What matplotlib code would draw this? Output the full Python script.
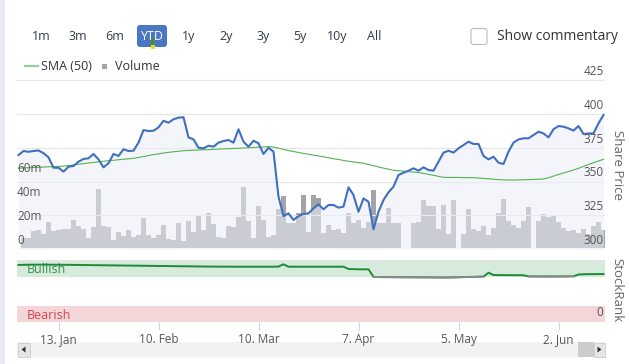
import numpy as np
import pandas as pd
import matplotlib
matplotlib.use("Agg")
import matplotlib.pyplot as plt
from matplotlib.patches import Rectangle, FancyBboxPatch, Polygon

plt.rcParams['font.family'] = ['Open Sans', 'DejaVu Sans']

# trading days (holidays kept with zero volume)
days = pd.bdate_range('2025-01-01', '2025-06-13')

price = [369.6, 372.6, 372.0, 372.6, 373.0, 371.0,
         367.9, 360.2, 360.2, 357.3, 361.0, 361.5, 364.7, 366.7, 367.2, 370.4,
         366.4, 360.5, 363.5, 370.4, 368.9, 373.9, 372.6, 372.8, 378.8, 388.1,
         387.4, 387.6, 390.1, 395.0, 393.6, 396.1, 397.3, 397.6, 382.7, 381.2,
         375.0, 374.6, 376.5, 375.8, 378.8, 380.0, 380.7, 378.8, 388.7, 379.5,
         375.8, 380.2, 378.3, 370.4, 375.0, 372.1, 338.8, 324.4, 326.4, 321.5,
         324.4, 325.9, 326.4, 330.1, 333.1,
         329.4, 332.6, 332.6, 330.6, 331.4, 345.7, 340.0, 327.6, 337.5, 335.0,
         314.6, 327.6, 336.3, 342.0, 346.2, 354.8, 356.5, 358.0, 359.8, 358.0,
         360.5, 358.5, 358.0, 364.7, 371.4, 372.8, 371.4, 374.6, 377.0, 379.5,
         377.8, 377.8, 368.9, 366.4, 368.4, 363.9, 363.0, 372.1, 378.8, 381.2,
         382.0, 382.0, 384.4, 386.9, 385.6, 382.7, 388.7, 391.1, 390.6, 389.4,
         387.7, 391.1, 385.2, 385.6, 385.6, 393.1, 399.3]

sma50 = [359.8, 360.0, 360.2, 360.4, 360.5, 360.7, 360.9, 361.0, 361.2, 361.4,
         361.8, 362.3, 362.8, 363.2, 363.7, 364.1, 364.6,
         365.0, 365.4, 365.7, 366.1, 366.5, 366.8, 367.2,
         367.8, 368.5, 369.2, 369.9, 370.5, 371.1,
         371.6, 372.0, 372.4, 372.8,
         373.0, 373.2, 373.3, 373.5, 373.6, 373.8,
         374.0, 374.2, 374.3, 374.5, 374.6, 374.8, 375.0,
         375.2, 375.4, 375.6, 375.8,
         375.5, 374.7, 373.8, 372.9,
         372.2, 371.5, 370.8, 370.2, 369.5, 368.9,
         368.3, 367.6, 366.9, 366.3, 365.6,
         365.0, 364.5, 364.0, 363.5,
         362.6, 361.7, 360.8, 359.9, 359.1, 358.3,
         358.0, 357.6, 357.3, 357.0, 356.6,
         356.0, 355.3, 354.6, 353.8, 353.1,
         353.0, 353.0, 353.0, 352.9, 352.9, 352.8,
         352.6, 352.3, 352.0, 351.7, 351.4, 351.2,
         351.1, 351.1, 351.2, 351.3, 351.4, 351.5, 351.7, 351.9,
         352.8, 354.0, 355.2, 356.3, 357.4, 358.5,
         359.8, 361.2, 362.6, 363.9, 365.2, 366.4]

# volume in millions
volume = [0,
          8.1, 8.6, 14.4, 15.0, 11.7, 21.7, 14.4, 15.0, 15.8, 15.8,
          23.3, 18.6, 15.8, 8.3, 17.5, 49.2, 18.6, 17.8, 6.7, 13.3,
          10.0, 15.0, 9.4, 10.8, 25.0, 10.8, 8.6, 10.8, 19.2, 7.5, 6.7,
          20.8, 6.1, 22.5, 13.3, 27.5, 15.0, 29.2, 20.3, 9.2, 8.6, 18.3,
          17.5, 25.8, 51.1, 22.5, 8.6, 35.0, 23.3, 9.4, 10.8, 32.5,
          43.6, 20.6, 21.1, 28.9, 43.9, 13.6, 43.9, 41.4, 12.8, 19.2,
          15.0, 15.6, 12.2, 29.4, 20.6, 23.3, 17.0, 22.0, 48.3, 21.1, 20.6,
          33.0, 21.1, 21.1, 0, 0, 21.1, 22.0, 40.0, 35.0, 35.0,
          15.8, 36.0, 11.7, 40.0, 0, 11.7, 32.5, 15.6, 14.2, 18.3, 10.8,
          16.4, 28.9, 40.8, 22.5, 19.2, 16.4, 22.5, 34.2, 0, 22.5, 28.3,
          25.6, 26.7, 22.0, 16.4, 14.4, 15.0, 12.2, 15.6, 11.7, 18.3, 22.0, 15.0]

stockrank = [92.0, 92.2, 92.4, 92.4, 92.5, 92.5, 92.4, 92.4, 92.3, 92.3,
             92.2, 92.1, 92.0, 91.9, 91.8, 91.7, 91.6, 91.5, 91.4, 91.3,
             91.2, 91.1, 91.0, 90.9, 90.8, 90.7, 90.6, 90.5,
             90.4, 90.3, 90.2, 90.1, 90.0, 89.9, 89.8, 89.7, 89.6, 89.5,
             89.4, 89.4, 89.3, 89.3, 89.2, 89.2, 89.2, 89.2, 89.2, 89.2,
             89.2, 89.2, 89.2,
             89.2, 89.4, 93.0,
             89.2, 89.2, 89.2, 89.2, 89.2, 89.2, 89.2, 89.2, 89.2, 89.2, 89.2, 89.2,
             85.5, 85.2, 85.0, 85.0, 84.9,
             72.8, 72.5, 72.4, 72.4, 72.3, 72.3, 72.2, 72.2, 72.1, 72.1,
             72.0, 72.0, 71.9, 71.8, 71.8, 71.9, 72.0, 72.2, 72.4, 72.6,
             72.8, 73.0, 73.2,
             79.5,
             75.8, 75.7, 75.6, 75.6, 75.5, 75.5, 75.4,
             73.6, 73.5, 73.5, 73.4, 73.4, 73.4, 73.5, 73.5, 73.6, 73.7,
             76.6, 77.0, 77.2, 77.2, 77.3, 77.4]

tick_dates = ['2025-01-13', '2025-02-10', '2025-03-10', '2025-04-07', '2025-05-05', '2025-06-02']
tick_labels = ['13. Jan', '10. Feb', '10. Mar', '7. Apr', '5. May', '2. Jun']
price_ticks = [300, 325, 350, 375, 400, 425]
vol_ticks = [0, 20, 40, 60]
vol_labels = ['0', '20m', '40m', '60m']
ranges = ['1m', '3m', '6m', 'YTD', '1y', '2y', '3y', '5y', '10y', 'All']
range_x = [41, 78, 115, 152, 189, 226, 263, 300, 337, 374]

W, H = 629, 364
fig = plt.figure(figsize=(W / 100, H / 100), dpi=100)
fig.patch.set_facecolor('white')

def rect(l, t, r, b):
    return [l / W, 1 - b / H, (r - l) / W, (b - t) / H]

x = np.arange(len(days))
tick_pos = [days.get_loc(pd.Timestamp(d)) for d in tick_dates]
txtc = '#555555'

# chrome layer in pixel coordinates
ui = fig.add_axes([0, 0, 1, 1])
ui.set_xlim(0, W)
ui.set_ylim(H, 0)
ui.axis('off')
ui.add_patch(Rectangle((0, 0), 4.5, H, fc='#e8ecf5', ec='none'))
for lab, bx in zip(ranges, range_x):
    col = '#333a48'
    if lab == 'YTD':
        ui.add_patch(FancyBboxPatch((137, 25), 30, 22, boxstyle='round,pad=0,rounding_size=3',
                                    fc='#4a77c4', ec='none'))
        col = 'white'
    ui.text(bx, 36.5, lab, ha='center', va='center', fontsize=9, color=col)
ui.add_patch(Rectangle((150.7, 38), 3.5, 7, fc='#4f8a2b', ec='none'))
ui.add_patch(Rectangle((150.7, 45), 4.2, 4.3, fc='#e5e01a', ec='none'))
ui.add_patch(FancyBboxPatch((471, 28.5), 16, 16, boxstyle='round,pad=0,rounding_size=2.5',
                            fc='white', ec='#bbbbbb', lw=0.8))
ui.text(497, 36.5, 'Show commentary', ha='left', va='center', fontsize=10, color='#333333')
# legend
ui.plot([25, 38], [66, 66], color='#8fd19e', lw=1.6)
ui.text(41, 66, 'SMA (50)', ha='left', va='center', fontsize=9, color='#333333')
ui.add_patch(Rectangle((102, 63.5), 5, 5.5, fc='#a6a6aa', ec='none'))
ui.text(115, 66, 'Volume', ha='left', va='center', fontsize=9, color='#333333')
# scrollbar
ui.add_patch(Rectangle((17, 342), 588, 15, fc='#f2f2f2', ec='none'))
ui.add_patch(Rectangle((17.5, 342.5), 12.5, 14, fc='#e6e6e6', ec='#cccccc', lw=0.6))
ui.add_patch(Polygon([[25.5, 346.5], [25.5, 352.5], [21.5, 349.5]], fc='#333333', ec='none'))
ui.add_patch(Rectangle((578, 342), 16, 15, fc='#cccccc', ec='none'))
ui.add_patch(Rectangle((594, 342.5), 11, 14, fc='#e6e6e6', ec='#cccccc', lw=0.6))
ui.add_patch(Polygon([[597.5, 346.5], [597.5, 352.5], [601.5, 349.5]], fc='#333333', ec='none'))
ui.text(617, 165, 'Share Price', rotation=270, ha='center', va='center', fontsize=9.5, color='#666666')
ui.text(617, 290, 'StockRank', rotation=270, ha='center', va='center', fontsize=9.5, color='#666666')

# price + volume panel
ax_vol = fig.add_axes(rect(17, 79, 605, 249))
ax_vol.bar(x, volume, width=1.0, color='#a3a3a8', linewidth=0)
ax_vol.set_xlim(-0.3, 117.3)
ax_vol.set_ylim(-0.83, 140.8)
ax_vol.axis('off')

ax_pr = ax_vol.twinx()
ax_pr.set_ylim(300, 300 + 170 / 1.35)
for v in price_ticks:
    ax_pr.axhline(v, color='#e6e6e6', lw=0.8, zorder=0)
ax_pr.fill_between(x, price, 300, color='#eceef8', alpha=0.55, lw=0, zorder=1)
ax_pr.plot(x, sma50, color='#55b24f', lw=0.8, zorder=2)
ax_pr.plot(x, price, color='#3f6fbf', lw=1.5, zorder=3)
ax_pr.axis('off')
for v in price_ticks:
    ax_pr.annotate(str(v), xy=(0.998, v), xycoords=('axes fraction', 'data'),
                   xytext=(0, 1.5), textcoords='offset points', ha='right', va='bottom',
                   fontsize=8.5, color=txtc, zorder=5)
for v, lab in zip(vol_ticks, vol_labels):
    ax_pr.annotate(lab, xy=(0, v), xycoords=ax_vol.get_yaxis_transform(),
                   xytext=(0, 1), textcoords='offset points', ha='left', va='bottom',
                   fontsize=8.5, color=txtc, zorder=5)

# stockrank panel
ax_sr = fig.add_axes(rect(17, 260, 605, 322))
ax_sr.set_xlim(-0.3, 117.3)
ax_sr.set_ylim(0, 100)
ax_sr.axhspan(73, 100, color='#d6ebdc', lw=0)
ax_sr.axhspan(0, 26, color='#f5d6d8', lw=0)
ax_sr.axhline(100, color='#e3e3e3', lw=0.8)
ax_sr.text(0.017, 84, 'Bullish', transform=ax_sr.get_yaxis_transform(), ha='left', va='center',
           fontsize=9, color='#3a8f4f', zorder=1)
ax_sr.text(0.017, 10, 'Bearish', transform=ax_sr.get_yaxis_transform(), ha='left', va='center',
           fontsize=9, color='#d2474f', zorder=1)
ax_sr.annotate('0', xy=(0.997, 0), xycoords=('axes fraction', 'data'), xytext=(0, 2),
               textcoords='offset points', ha='right', va='bottom', fontsize=8.5, color=txtc)
sr = np.array(stockrank)
ax_sr.plot(x, sr, color='#1f8a3a', lw=1.4, zorder=3)
ax_sr.plot(x, np.ma.masked_where(sr >= 74, sr), color='#8a8a8a', lw=1.4, zorder=4)
for s in ax_sr.spines.values():
    s.set_visible(False)
ax_sr.set_yticks([])
ax_sr.set_xticks(tick_pos)
ax_sr.set_xticklabels(tick_labels)
ax_sr.tick_params(axis='x', length=6, width=0.8, color='#ccd6eb', labelsize=8.5,
                  labelcolor=txtc, pad=2)

fig.savefig('out.png', dpi=100)
